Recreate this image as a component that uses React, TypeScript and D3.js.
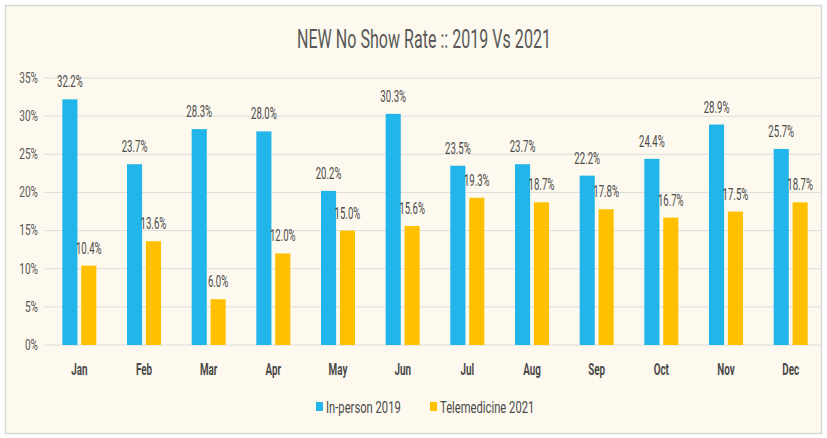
import React from "react";
import * as d3 from "d3";

const months = ["Jan", "Feb", "Mar", "Apr", "May", "Jun", "Jul", "Aug", "Sep", "Oct", "Nov", "Dec"];
const seriesNames = ["In-person 2019", "Telemedicine 2021"];
const inPerson2019 = [32.2, 23.7, 28.3, 28.0, 20.2, 30.3, 23.5, 23.7, 22.2, 24.4, 28.9, 25.7];
const telemedicine2021 = [10.4, 13.6, 6.0, 12.0, 15.0, 15.6, 19.3, 18.7, 17.8, 16.7, 17.5, 18.7];
const yTicks = [0, 5, 10, 15, 20, 25, 30, 35];
const colors = ["#21b5ea", "#ffc000"];
const title = "NEW No Show Rate :: 2019 Vs 2021";

const W = 827;
const H = 438;
const FONT = "Roboto, 'DejaVu Sans', sans-serif";

type NTProps = {
  x: number;
  y: number;
  sx?: number;
  anchor?: "start" | "middle" | "end";
  size: number;
  weight?: string | number;
  fill?: string;
  dy?: string;
  children: React.ReactNode;
};

function NText({ x, y, sx = 0.72, anchor = "start", size, weight = "normal", fill = "#4a4a4a", dy, children }: NTProps) {
  return (
    <text
      transform={`translate(${x},${y}) scale(${sx},1)`}
      textAnchor={anchor}
      fontSize={size}
      fontWeight={weight}
      fill={fill}
      dy={dy}
    >
      {children}
    </text>
  );
}

export default function App() {
  const x0 = d3.scaleBand<string>().domain(months).range([47, 823]).padding(0);
  const x1 = d3.scaleBand<string>().domain(seriesNames).range([0, 34]).paddingInner(0.2).paddingOuter(0);
  const y = d3.scaleLinear().domain([0, 35]).range([345, 78]);
  const data = [inPerson2019, telemedicine2021];

  return (
    <svg width={W} height={H} style={{ position: "absolute", left: 0, top: 0 }} fontFamily={FONT}>
      <rect x={0} y={0} width={W} height={H} fill="#ffffff" />
      <rect x={5.5} y={5.5} width={816} height={428} fill="#fdf9ee" stroke="#d6d6d6" strokeWidth={1.5} />
      <text x={424} y={48} textAnchor="middle" fontSize={25} fill="#595959" textLength={254} lengthAdjust="spacingAndGlyphs">
        {title}
      </text>
      {yTicks.map((t) => (
        <g key={t}>
          <line x1={45} x2={822} y1={y(t)} y2={y(t)} stroke="#dcdcdc" strokeWidth={1} />
          <NText x={38} y={y(t)} dy="0.35em" anchor="end" size={14} sx={0.72} fill="#555">
            {t}%
          </NText>
        </g>
      ))}
      {months.map((m, i) => {
        const cx = (x0(m) as number) + x0.bandwidth() / 2;
        const gx = cx - 17;
        return (
          <g key={m}>
            {data.map((s, j) => {
              const bx = gx + (x1(seriesNames[j]) as number);
              const v = s[i];
              return (
                <g key={j}>
                  <rect x={bx} y={y(v)} width={x1.bandwidth()} height={y(0) - y(v)} fill={colors[j]} />
                  <NText x={bx + x1.bandwidth() / 2} y={y(v) - 12} anchor="middle" size={16} sx={0.6}>
                    {v.toFixed(1)}%
                  </NText>
                </g>
              );
            })}
            <NText x={cx} y={375} anchor="middle" size={17} weight="bold" sx={0.58}>
              {m}
            </NText>
          </g>
        );
      })}
      {seriesNames.map((n, j) => {
        const lx = j === 0 ? 316 : 430;
        return (
          <g key={n}>
            <rect x={lx} y={402} width={7} height={9} fill={colors[j]} />
            <NText x={lx + 10} y={413} size={17} sx={0.66}>
              {n}
            </NText>
          </g>
        );
      })}
    </svg>
  );
}
